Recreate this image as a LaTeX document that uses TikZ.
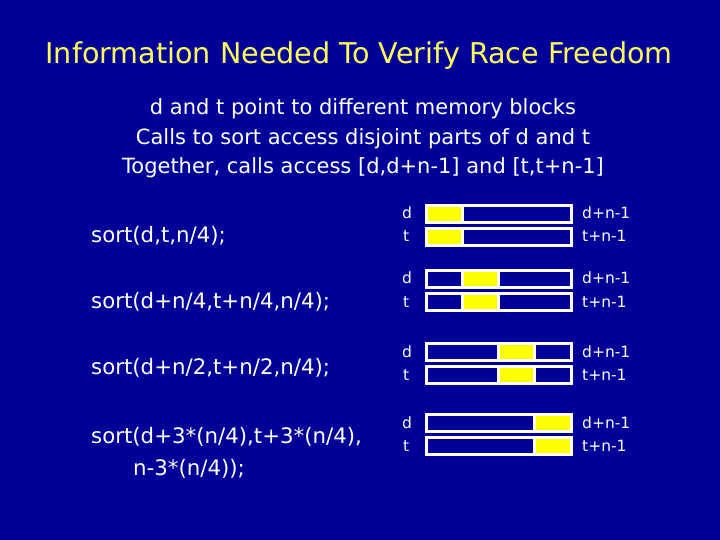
\documentclass[tikz,border=0pt]{standalone}
\usepackage{fontspec}
\setmainfont{DejaVu Sans}
\definecolor{bg}{RGB}{0,0,153}
\definecolor{ttl}{RGB}{255,255,90}
\definecolor{hl}{RGB}{255,255,0}
\tikzset{
  titlestyle/.style={text=ttl, font=\fontsize{28.6bp}{34bp}\selectfont, anchor=base, inner sep=0pt},
  bodystyle/.style={text=white, font=\fontsize{21bp}{25bp}\selectfont, anchor=base, inner sep=0pt},
  callstyle/.style={text=white, font=\fontsize{21.3bp}{25bp}\selectfont, anchor=base west, inner sep=0pt},
  memlabel/.style={text=white, font=\fontsize{15.5bp}{18bp}\selectfont, anchor=base west, inner sep=0pt},
  membox/.style={draw=white, line width=3bp},
  hlbox/.style={fill=hl, draw=white, line width=3bp}
}
\begin{document}
\begin{tikzpicture}[x=1bp,y=-1bp]
\fill[bg] (0,0) rectangle (720,540);
\useasboundingbox (0,0) rectangle (720,540);
\node[titlestyle] (title) at (359,63.3) {Information Needed To Verify Race Freedom};
\node[bodystyle] (b1) at (363,115) {d and t point to different memory blocks};
\node[bodystyle] (b2) at (363,145) {Calls to sort access disjoint parts of d and t};
\node[bodystyle] (b3) at (363,174) {Together, calls access [d,d+n-1] and [t,t+n-1]};
\node[callstyle] (c1) at (91,243) {sort(d,t,n/4);};
\node[callstyle] (c2) at (91,308) {sort(d+n/4,t+n/4,n/4);};
\node[callstyle] (c3) at (91,374) {sort(d+n/2,t+n/2,n/4);};
\node[callstyle] (c4) at (91,443) {sort(d+3*(n/4),t+3*(n/4),};
\node[callstyle] (c4b) at (133,475) {n-3*(n/4));};
\foreach \top/\k [count=\i] in {204/0,269/1,342/2,413/3}{
  \pgfmathsetmacro{\xa}{426.5+36.125*\k}
  \pgfmathsetmacro{\xb}{\xa+36.125}
  \draw[hlbox] (\xa,\top+1.5) rectangle (\xb,\top+18.5);
  \draw[membox] (426.5,\top+1.5) rectangle (571,\top+18.5);
  \draw[hlbox] (\xa,\top+24.5) rectangle (\xb,\top+41.5);
  \draw[membox] (426.5,\top+24.5) rectangle (571,\top+41.5);
  \node[memlabel] (d\i) at (402,\top+15) {d};
  \node[memlabel] (t\i) at (403,\top+38) {t};
  \node[memlabel] (de\i) at (582,\top+15) {d+n-1};
  \node[memlabel] (te\i) at (582,\top+38) {t+n-1};
}
\end{tikzpicture}
\end{document}
